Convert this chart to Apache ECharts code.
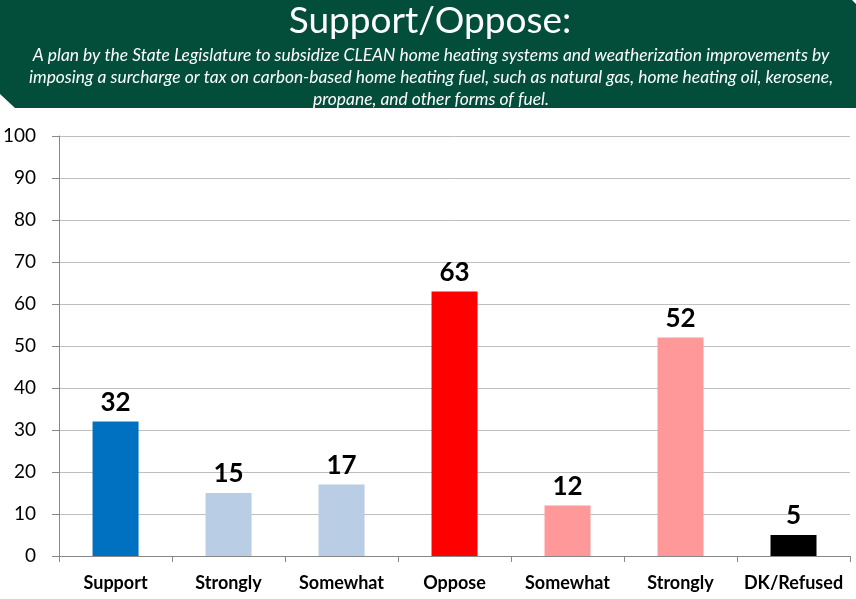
<!DOCTYPE html>
<html lang="en">
<head>
    <meta charset="UTF-8">
    <title>Support/Oppose</title>
    <script src="https://cdn.jsdelivr.net/npm/echarts@6/dist/echarts.min.js"></script>
    <style type="text/css">
        body{ margin:0; background:#fff; }
    </style>
</head>
<body>
<div id="main" style="width: 856px;height:599px;"></div>
<script type="text/javascript">
    var myChart = echarts.init(document.getElementById('main'));

    // data
    var categories = ['Support', 'Strongly', 'Somewhat', 'Oppose', 'Somewhat', 'Strongly', 'DK/Refused'];
    var values = [32, 15, 17, 63, 12, 52, 5];
    var barColors = ['#0070C0', '#B9CDE5', '#B9CDE5', '#FF0000', '#FF9999', '#FF9999', '#000000'];

    var titleText = 'Support/Oppose:';
    var subLines = [
        'A plan by the State Legislature to subsidize CLEAN home heating systems and weatherization improvements by',
        'imposing a surcharge or tax on carbon-based home heating fuel, such as natural gas, home heating oil, kerosene,',
        'propane, and other forms of fuel.'
    ];

    var font = 'Lato, "Open Sans", sans-serif';

    var graphics = [{
        type: 'polygon',
        shape: { points: [[0, 0], [852, 0], [856, 4], [856, 108], [15, 108], [0, 94]] },
        style: { fill: '#034E3A' }
    }, {
        type: 'text',
        x: 430, y: 21,
        style: { text: titleText, fill: '#fff', font: '37px ' + font, textAlign: 'center', textVerticalAlign: 'middle' }
    }];
    for (var i = 0; i < subLines.length; i++) {
        graphics.push({
            type: 'text',
            x: 431, y: 55 + i * 22,
            style: { text: subLines[i], fill: '#fff', font: 'italic 17.4px ' + font, textAlign: 'center', textVerticalAlign: 'middle' }
        });
    }

    var option = {
        animation: false,
        graphic: graphics,
        grid: { left: 56, right: 6, top: 136, bottom: 43 },
        xAxis: {
            type: 'category',
            data: categories,
            axisLine: { lineStyle: { color: '#888', width: 1 } },
            axisTick: { show: true, length: 6, lineStyle: { color: '#888' } },
            axisLabel: { color: '#000', fontFamily: font, fontWeight: 'bold', fontSize: 18, margin: 18, interval: 0 }
        },
        yAxis: {
            type: 'value',
            min: 0, max: 100, interval: 10,
            axisLine: { show: true, lineStyle: { color: '#888' } },
            axisTick: { show: true, length: 7, lineStyle: { color: '#888' } },
            splitLine: { lineStyle: { color: '#BFBFBF' } },
            axisLabel: { color: '#000', fontFamily: font, fontSize: 19, margin: 23 }
        },
        series: [{
            type: 'bar',
            barWidth: 46,
            data: values.map(function (v, i) {
                return { value: v, itemStyle: { color: barColors[i] } };
            }),
            label: {
                show: true, position: 'top', distance: 6,
                color: '#000', fontFamily: font, fontWeight: 'bold', fontSize: 26
            }
        }]
    };
    myChart.setOption(option);
</script>
</body>
</html>
